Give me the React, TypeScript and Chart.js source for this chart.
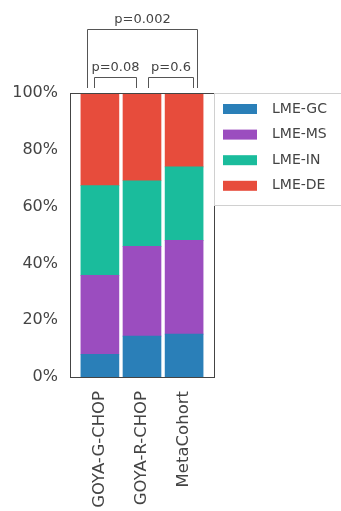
import React, { useEffect, useRef } from "react";
import { Chart, registerables } from "chart.js";

Chart.register(...registerables);

const cohorts = ["GOYA-G-CHOP", "GOYA-R-CHOP", "MetaCohort"];
const subtypes = ["LME-GC", "LME-MS", "LME-IN", "LME-DE"];
const colors = ["#2a7fb8", "#9b4dbf", "#1abc9c", "#e74c3c"];

// percentage of each subtype per cohort
const gcValues = [8.0, 14.4, 15.1];
const msValues = [27.8, 31.6, 33.0];
const inValues = [31.6, 23.1, 25.9];
const deValues = [32.6, 30.9, 26.0];

const yTicks = [0, 20, 40, 60, 80, 100];

// pairwise tests drawn as brackets above the bars (x in cohort index units)
const comparisons = [
  { from: -0.3, to: 2.3, label: "p=0.002", outer: true },
  { from: -0.15, to: 0.86, label: "p=0.08", outer: false },
  { from: 1.15, to: 2.2, label: "p=0.6", outer: false },
];

const FONT = "'DejaVu Sans', sans-serif";

const bracketPlugin = {
  id: "brackets",
  afterDraw(chart: any) {
    const { ctx, chartArea, scales } = chart;
    const x = scales.x;
    ctx.save();
    ctx.strokeStyle = "#555";
    ctx.lineWidth = 1;
    ctx.fillStyle = "#444";
    ctx.font = `13px ${FONT}`;
    ctx.textAlign = "center";
    ctx.textBaseline = "bottom";
    const legBottom = chartArea.top - 5;
    for (const c of comparisons) {
      const x1 = Math.round(x.getPixelForValue(c.from)) + 0.5;
      const x2 = Math.round(x.getPixelForValue(c.to)) + 0.5;
      const top = c.outer ? chartArea.top - 64 : chartArea.top - 16;
      ctx.beginPath();
      ctx.moveTo(x1, legBottom);
      ctx.lineTo(x1, top + 0.5);
      ctx.lineTo(x2, top + 0.5);
      ctx.lineTo(x2, legBottom);
      ctx.stroke();
      ctx.fillText(c.label, (x1 + x2) / 2, top - 3);
    }
    ctx.restore();
  },
};

const framePlugin = {
  id: "frameAndLegend",
  afterDraw(chart: any) {
    const { ctx, chartArea, width } = chart;
    ctx.save();
    // axes frame
    ctx.strokeStyle = "#444";
    ctx.lineWidth = 1;
    ctx.strokeRect(
      Math.round(chartArea.left) + 0.5,
      Math.round(chartArea.top) + 0.5,
      Math.round(chartArea.right - chartArea.left),
      Math.round(chartArea.bottom - chartArea.top)
    );
    // legend box to the right of the axes
    const lx = Math.round(chartArea.right) + 0.5;
    const ly = Math.round(chartArea.top) + 0.5;
    ctx.strokeStyle = "#d0d0d0";
    ctx.strokeRect(lx, ly, width - lx + 2, 112);
    ctx.font = `14px ${FONT}`;
    ctx.textAlign = "left";
    ctx.textBaseline = "middle";
    subtypes.forEach((name, i) => {
      const cy = chartArea.top + 16 + i * 25.6;
      ctx.fillStyle = colors[i];
      ctx.fillRect(chartArea.right + 9, cy - 5, 34, 10);
      ctx.fillStyle = "#444";
      ctx.fillText(name, chartArea.right + 58, cy);
    });
    ctx.restore();
  },
};

export default function App() {
  const canvasRef = useRef<HTMLCanvasElement | null>(null);

  useEffect(() => {
    document.body.style.margin = "0";
    const series = [gcValues, msValues, inValues, deValues];
    const chart = new Chart(canvasRef.current as HTMLCanvasElement, {
      type: "bar",
      data: {
        datasets: series.map((vals, i) => ({
          label: subtypes[i],
          data: vals.map((v, j) => ({ x: j, y: v })),
          backgroundColor: colors[i],
          borderWidth: 0,
          barThickness: 38,
        })),
      },
      options: {
        animation: false,
        responsive: false,
        maintainAspectRatio: false,
        layout: { padding: { top: 93, right: 127, left: 0, bottom: 0 } },
        plugins: { legend: { display: false }, tooltip: { enabled: false } },
        scales: {
          x: {
            type: "linear",
            stacked: true,
            offset: false,
            min: -0.71,
            max: 2.71,
            grid: { display: false, drawTicks: false, offset: false },
            border: { display: false },
            afterBuildTicks: (s: any) => {
              s.ticks = cohorts.map((_, i) => ({ value: i }));
            },
            afterFit: (s: any) => {
              s.height = 134;
            },
            ticks: {
              autoSkip: false,
              minRotation: 90,
              maxRotation: 90,
              padding: 14,
              color: "#444",
              font: { family: FONT, size: 16.5 },
              callback: (v: any) => cohorts[Number(v)] ?? "",
            },
          },
          y: {
            stacked: true,
            min: 0,
            max: 100,
            grid: { display: false, drawTicks: false },
            border: { display: false },
            afterBuildTicks: (s: any) => {
              s.ticks = yTicks.map((v) => ({ value: v }));
            },
            afterFit: (s: any) => {
              s.width = 70;
            },
            ticks: {
              padding: 12,
              color: "#444",
              font: { family: FONT, size: 16 },
              callback: (v: any) => `${v}%`,
            },
          },
        },
      },
      plugins: [bracketPlugin, framePlugin],
    });
    return () => chart.destroy();
  }, []);

  return (
    <div style={{ width: 341, height: 511, background: "#fff" }}>
      <canvas ref={canvasRef} width={341} height={511} />
    </div>
  );
}
